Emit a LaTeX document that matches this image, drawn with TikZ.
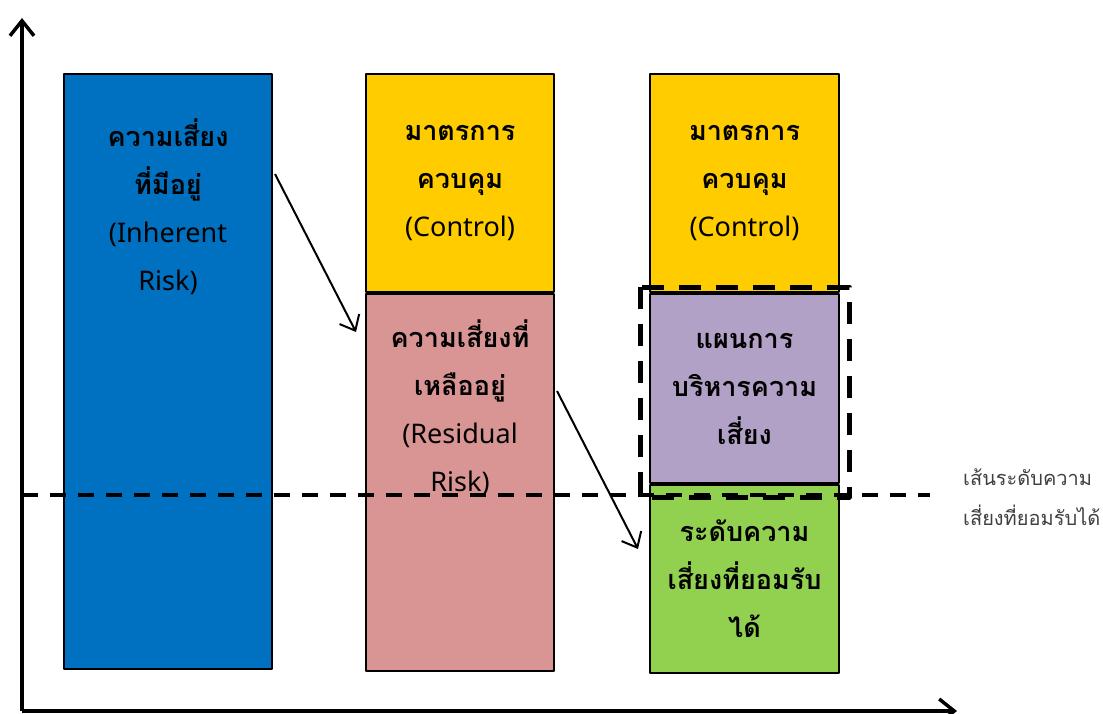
\documentclass[tikz,border=0pt]{standalone}
\usepackage{fontspec}
\newfontfamily\thaifont[Script=Thai]{Loma}
\newfontfamily\latinfont{Noto Sans}
\newcommand\lat[1]{{\latinfont\mdseries #1}}
\usetikzlibrary{arrows.meta,positioning}
\definecolor{inhblue}{HTML}{0070C0}
\definecolor{ctlyellow}{HTML}{FFCC00}
\definecolor{respink}{HTML}{D99594}
\definecolor{planpurple}{HTML}{B2A1C7}
\definecolor{accgreen}{HTML}{92D050}
\definecolor{labelgray}{HTML}{404040}
\tikzset{
  bar/.style={draw=black, line width=2pt, inner sep=0pt, minimum width=#1, anchor=north west, align=center},
  txt/.style={align=center, inner sep=0pt},
  axis/.style={line width=3.5pt, -{Straight Barb[length=15pt,width=24pt]}},
  flow/.style={line width=2pt, -{Straight Barb[length=13pt,width=22pt]}},
  level/.style={line width=4pt, dash pattern=on 16pt off 12pt},
}
\begin{document}
\begin{tikzpicture}[x=1pt, y=-1pt, font=\thaifont\bfseries\fontsize{27}{48}\selectfont, line join=round]
  \useasboundingbox (0,0) rectangle (1103,713);
  % แกน
  \coordinate (O) at (22,711);
  \coordinate (ytop) at (22,18);
  \coordinate (xend) at (957,711);
  \draw[axis] (O) -- (ytop);
  \draw[axis] (O) -- (xend);
  % แท่งที่ 1
  \node[bar=208pt, fill=inhblue, minimum height=595pt] (inh) at (63,73) {};
  \node[txt] (inhtxt) at ([yshift=-133.5pt]inh.north) {ความเสี่ยง\\ที่มีอยู่\\\lat{(Inherent}\\\lat{Risk)}};
  % แท่งที่ 2
  \node[bar=188pt, fill=ctlyellow, minimum height=218pt] (ctla) at (365,73) {มาตรการ\\ควบคุม\\\lat{(Control)}};
  \node[bar=188pt, fill=respink, minimum height=377pt] (res) at (ctla.south west) {};
  \node[txt] (restxt) at ([yshift=-114.5pt]res.north) {ความเสี่ยงที่\\เหลืออยู่\\\lat{(Residual}\\\lat{Risk)}};
  % แท่งที่ 3
  \node[bar=189pt, fill=ctlyellow, minimum height=218pt] (ctlb) at (649,73) {มาตรการ\\ควบคุม\\\lat{(Control)}};
  \node[bar=189pt, fill=planpurple, minimum height=189pt] (plan) at (ctlb.south west) {แผนการ\\บริหารความ\\เสี่ยง};
  \node[bar=189pt, fill=accgreen, minimum height=188pt] (acc) at (plan.south west) {ระดับความ\\เสี่ยงที่ยอมรับ\\ได้};
  % ลูกศร
  \coordinate (a1s) at (275,174);
  \coordinate (a1e) at (356,332);
  \coordinate (a2s) at (557,391);
  \coordinate (a2e) at (638,549);
  \draw[flow] (a1s) -- (a1e);
  \draw[flow] (a2s) -- (a2e);
  % กรอบเส้นประ
  \draw[line width=5pt, dash pattern=on 22pt off 15pt]
    ([xshift=-9pt,yshift=6pt]plan.north west) rectangle ([xshift=9pt,yshift=-13pt]plan.south east);
  % เส้นระดับความเสี่ยงที่ยอมรับได้
  \coordinate (lvs) at (22,494.5);
  \coordinate (lve) at (930,494.5);
  \draw[level] (lvs) -- (lve);
  \node[txt, anchor=west, text=labelgray, font=\thaifont\fontsize{20}{40}\selectfont, align=left] (lvtxt) at (963,497) {เส้นระดับความ\\เสี่ยงที่ยอมรับได้};
\end{tikzpicture}
\end{document}
